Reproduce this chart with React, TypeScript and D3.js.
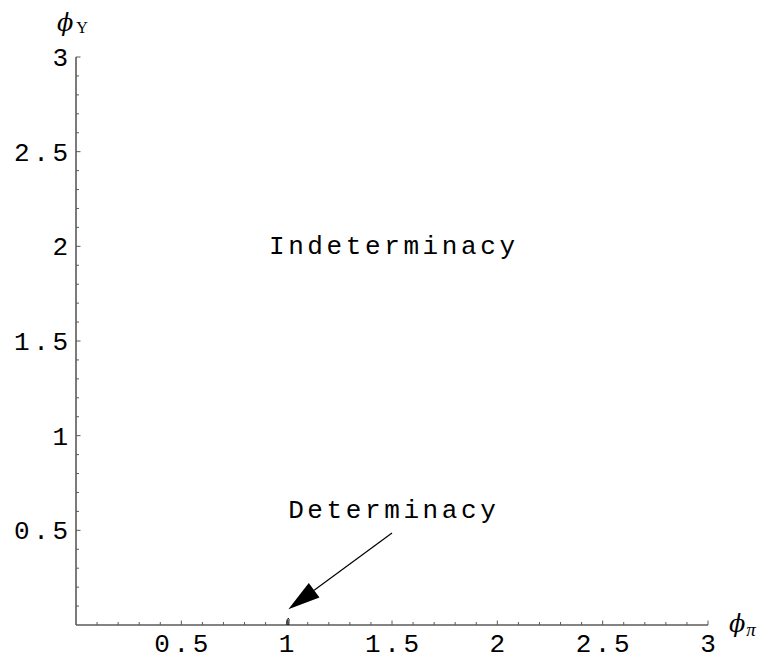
import { useRef, useEffect } from 'react';
import * as d3 from 'd3';

const W = 769;
const H = 665;
const MARGIN = { top: 57, right: 61, bottom: 40, left: 76 };

const xMajor = [0.5, 1, 1.5, 2, 2.5, 3];
const xLabels = ['0.5', '1', '1.5', '2', '2.5', '3'];
const yMajor = [0.5, 1, 1.5, 2, 2.5, 3];
const yLabels = ['0.5', '1', '1.5', '2', '2.5', '3'];

// tiny determinacy sliver just right of phi_pi = 1
const sliver: [number, number][] = [
  [1.002, 0], [1.003, 0.03], [1.008, 0.036], [1.011, 0.03], [1.01, 0],
];
const arrowFrom: [number, number] = [1.5, 0.486];
const arrowTo: [number, number] = [1.008, 0.083];
const labels = [
  { text: 'Indeterminacy', x: 1.5, y: 2.0 },
  { text: 'Determinacy', x: 1.5, y: 0.61 },
];

const FONT = "'Liberation Mono', 'Courier New', monospace";
const SERIF = "'Liberation Serif', 'DejaVu Serif', serif";
const AXIS = '#5a5a5a';

export default function App() {
  const ref = useRef<SVGSVGElement>(null);

  useEffect(() => {
    if (!ref.current) return;
    document.body.style.margin = '0';
    const svg = d3.select(ref.current);
    svg.selectAll('*').remove();

    const x = d3.scaleLinear().domain([0, 3]).range([MARGIN.left, W - MARGIN.right]);
    const y = d3.scaleLinear().domain([0, 3]).range([H - MARGIN.bottom, MARGIN.top]);
    const x0 = x(0), y0 = y(0);

    const minorX = x.ticks(30).filter((t) => t > 0 && !xMajor.some((m) => Math.abs(m - t) < 1e-6));
    const minorY = y.ticks(30).filter((t) => t > 0 && !yMajor.some((m) => Math.abs(m - t) < 1e-6));

    // axes
    svg.append('line')
      .attr('x1', x0).attr('x2', x(3)).attr('y1', y0).attr('y2', y0)
      .attr('stroke', AXIS).attr('stroke-width', 1.6);
    svg.append('line')
      .attr('x1', x0).attr('x2', x0).attr('y1', y0).attr('y2', y(3))
      .attr('stroke', AXIS).attr('stroke-width', 1.6);

    // x ticks (inward)
    svg.append('g').selectAll('line').data(xMajor).join('line')
      .attr('x1', (d) => x(d)).attr('x2', (d) => x(d))
      .attr('y1', y0).attr('y2', y0 - 4.5)
      .attr('stroke', AXIS).attr('stroke-width', 1);
    svg.append('g').selectAll('line').data(minorX).join('line')
      .attr('x1', (d) => x(d)).attr('x2', (d) => x(d))
      .attr('y1', y0).attr('y2', y0 - 3)
      .attr('stroke', AXIS).attr('stroke-width', 1);
    // y ticks
    svg.append('g').selectAll('line').data(yMajor).join('line')
      .attr('x1', x0).attr('x2', x0 + 4.5)
      .attr('y1', (d) => y(d)).attr('y2', (d) => y(d))
      .attr('stroke', AXIS).attr('stroke-width', 1);
    svg.append('g').selectAll('line').data(minorY).join('line')
      .attr('x1', x0).attr('x2', x0 + 3)
      .attr('y1', (d) => y(d)).attr('y2', (d) => y(d))
      .attr('stroke', AXIS).attr('stroke-width', 1);

    const fs = 26;
    const ls = 3.6;
    // tick labels
    svg.append('g').selectAll('text').data(xMajor).join('text')
      .attr('x', (d) => x(d) + ls / 2).attr('y', y0 + 27)
      .attr('text-anchor', 'middle')
      .attr('font-family', FONT).attr('font-size', fs).attr('letter-spacing', ls)
      .attr('fill', '#000')
      .text((_, i) => xLabels[i]);
    svg.append('g').selectAll('text').data(yMajor).join('text')
      .attr('x', x0 - 8 + ls).attr('y', (d) => y(d) + 9)
      .attr('text-anchor', 'end')
      .attr('font-family', FONT).attr('font-size', fs).attr('letter-spacing', ls)
      .attr('fill', '#000')
      .text((_, i) => yLabels[i]);

    // region labels
    svg.append('g').selectAll('text').data(labels).join('text')
      .attr('x', (d) => x(d.x) + ls / 2).attr('y', (d) => y(d.y) + 8)
      .attr('text-anchor', 'middle')
      .attr('font-family', FONT).attr('font-size', fs).attr('letter-spacing', ls)
      .attr('fill', '#000')
      .text((d) => d.text);

    // sliver region
    svg.append('path')
      .datum(sliver)
      .attr('d', d3.line<[number, number]>().x((d) => x(d[0])).y((d) => y(d[1])))
      .attr('fill', 'none').attr('stroke', '#000').attr('stroke-width', 1);

    // arrow
    const ax1 = x(arrowFrom[0]), ay1 = y(arrowFrom[1]);
    const ax2 = x(arrowTo[0]), ay2 = y(arrowTo[1]);
    const ang = Math.atan2(ay2 - ay1, ax2 - ax1);
    const headL = 32, headW = 9;
    const bx = ax2 - headL * Math.cos(ang), by = ay2 - headL * Math.sin(ang);
    svg.append('line')
      .attr('x1', ax1).attr('y1', ay1).attr('x2', bx).attr('y2', by)
      .attr('stroke', '#000').attr('stroke-width', 1.2);
    const px = -Math.sin(ang), py = Math.cos(ang);
    svg.append('path')
      .attr('d', `M${ax2},${ay2}L${bx + px * headW},${by + py * headW}L${bx - px * headW},${by - py * headW}Z`)
      .attr('fill', '#000');

    // axis titles
    const yt = svg.append('text').attr('x', 57).attr('y', 31)
      .attr('font-family', SERIF).attr('fill', '#000');
    yt.append('tspan').attr('font-family', "'DejaVu Serif', serif").attr('font-style', 'italic')
      .attr('font-size', 24).text('ϕ');
    yt.append('tspan').attr('font-size', 16).attr('dx', 3).attr('dy', 2).text('Y');

    const xt = svg.append('text').attr('x', 729).attr('y', 632)
      .attr('font-family', SERIF).attr('fill', '#000');
    xt.append('tspan').attr('font-family', "'DejaVu Serif', serif").attr('font-style', 'italic')
      .attr('font-size', 24).text('ϕ');
    xt.append('tspan').attr('font-size', 19).attr('font-style', 'italic').attr('dx', 1).attr('dy', 4).text('π');
  }, []);

  return <svg ref={ref} width={W} height={H} style={{ display: 'block', background: '#fff' }} />;
}
